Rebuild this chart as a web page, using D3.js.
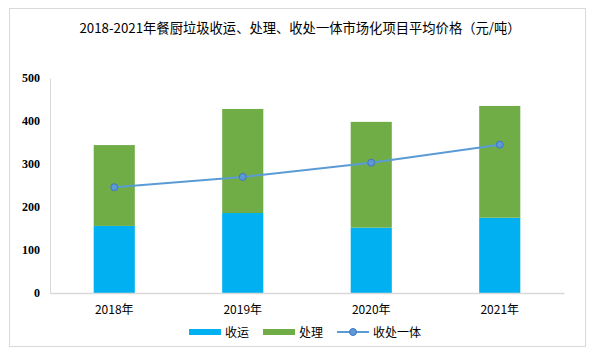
<!DOCTYPE html>
<html><head><meta charset="utf-8">
<script src="https://cdn.jsdelivr.net/npm/d3@7"></script>
<style>body{margin:0;background:#fff}svg{display:block}</style>
</head><body>
<svg id="c" width="596" height="356"></svg>
<script>
const categories = ["2018年","2019年","2020年","2021年"];
const collect = [156, 186, 152, 175];
const treat = [188, 242, 246, 260];
const integrated = [246, 270, 303, 345];
const yTicks = [0,100,200,300,400,500];
const seriesNames = ["收运","处理","收处一体"];
const title = "2018-2021年餐厨垃圾收运、处理、收处一体市场化项目平均价格（元/吨）";

const svg = d3.select("#c");
const sans = "'Microsoft YaHei','Noto Sans CJK SC',sans-serif";
svg.append("rect").attr("x",9.5).attr("y",8.5).attr("width",576).attr("height",338)
  .attr("fill","#fff").attr("stroke","#d9d9d9").attr("stroke-width",1);

const m = {l:50, r:564, t:78, b:293};
const x = d3.scaleBand().domain(categories).range([m.l, m.r]).paddingInner(0.68).paddingOuter(0.34);
const y = d3.scaleLinear().domain([0,500]).range([m.b, m.t]);

svg.append("text").attr("x",300).attr("y",33).attr("text-anchor","middle")
  .attr("font-family",sans).attr("font-size",13.3).attr("fill","#000").text(title);

// y axis
const ya = svg.append("g").attr("transform",`translate(${m.l},0)`)
  .call(d3.axisLeft(y).tickValues(yTicks).tickSize(0).tickPadding(10).tickFormat(d3.format("d")));
ya.select(".domain").attr("stroke","#d9d9d9");
ya.selectAll("text").attr("font-family","'Liberation Serif','Times New Roman',serif")
  .attr("font-weight","bold").attr("font-size",12).attr("fill","#000");

const stack = categories.map((c,i)=>({c, a:collect[i], b:treat[i]}));
const bw = x.bandwidth();
svg.append("g").selectAll("rect").data(stack).join("rect")
  .attr("x",d=>x(d.c)).attr("width",bw).attr("y",d=>y(d.a)).attr("height",d=>y(0)-y(d.a)).attr("fill","#00b0f0");
svg.append("g").selectAll("rect").data(stack).join("rect")
  .attr("x",d=>x(d.c)).attr("width",bw).attr("y",d=>y(d.a+d.b)).attr("height",d=>y(d.a)-y(d.a+d.b)).attr("fill","#70ad47");

// x axis
const xa = svg.append("g").attr("transform",`translate(0,${m.b})`)
  .call(d3.axisBottom(x).tickSize(0).tickPadding(12));
xa.select(".domain").attr("stroke","#d9d9d9").attr("stroke-width",1.5);
xa.selectAll("text").attr("font-family",sans).attr("font-size",12).attr("fill","#000");

const line = d3.line().x((d,i)=>x(categories[i])+bw/2).y(d=>y(d));
svg.append("path").datum(integrated).attr("d",line).attr("fill","none")
  .attr("stroke","#5b9bd5").attr("stroke-width",2);
svg.append("g").selectAll("circle").data(integrated).join("circle")
  .attr("cx",(d,i)=>x(categories[i])+bw/2).attr("cy",d=>y(d)).attr("r",3.5)
  .attr("fill","#5b9bd5").attr("stroke","#4472c4").attr("stroke-width",1);

// legend
const lg = svg.append("g").attr("font-family",sans).attr("font-size",12);
const ly = 332;
lg.append("rect").attr("x",189).attr("y",ly-3).attr("width",32).attr("height",6).attr("fill","#00b0f0");
lg.append("text").attr("x",225).attr("y",ly+4.5).text(seriesNames[0]);
lg.append("rect").attr("x",263).attr("y",ly-3).attr("width",32).attr("height",6).attr("fill","#70ad47");
lg.append("text").attr("x",299).attr("y",ly+4.5).text(seriesNames[1]);
lg.append("line").attr("x1",337).attr("x2",369).attr("y1",ly).attr("y2",ly).attr("stroke","#5b9bd5").attr("stroke-width",2);
lg.append("circle").attr("cx",353).attr("cy",ly).attr("r",3.5).attr("fill","#5b9bd5").attr("stroke","#4472c4");
lg.append("text").attr("x",373).attr("y",ly+4.5).text(seriesNames[2]);
</script>
</body></html>
